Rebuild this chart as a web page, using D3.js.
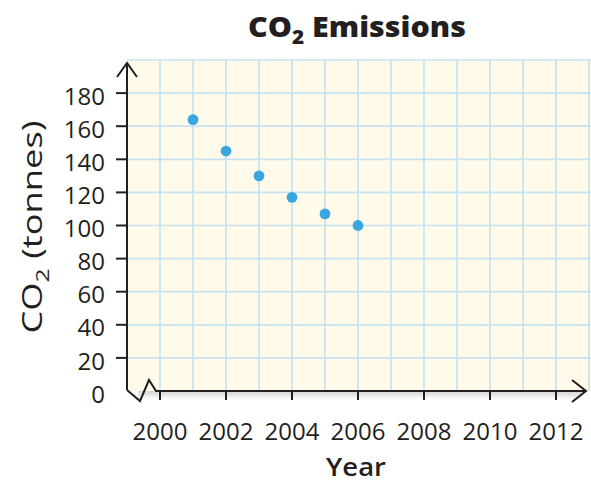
<!DOCTYPE html>
<html>
<head>
<meta charset="utf-8">
<script src="https://cdn.jsdelivr.net/npm/d3@7/dist/d3.min.js"></script>
<style>
  html, body { margin: 0; padding: 0; background: #ffffff; }
  svg { display: block; }
  text { font-family: "Open Sans", "Lato", sans-serif; fill: #231f20; }
</style>
</head>
<body>
<svg id="chart" width="591" height="483"></svg>
<script>
// ---- data ----
const years = [2001, 2002, 2003, 2004, 2005, 2006];
const emissions = [164, 145, 130, 117, 107, 100];
const xTickLabels = [2000, 2002, 2004, 2006, 2008, 2010, 2012];
const yTickLabels = [0, 20, 40, 60, 80, 100, 120, 140, 160, 180];
const xGridYears = [2000, 2001, 2002, 2003, 2004, 2005, 2006, 2007, 2008, 2009, 2010, 2011, 2012, 2013];
const yGridValues = [20, 40, 60, 80, 100, 120, 140, 160, 180, 200];

const svg = d3.select("#chart");
const x = d3.scaleLinear().domain([1999, 2013]).range([127, 589]);
const y = d3.scaleLinear().domain([0, 200]).range([391, 60]);

const gridLeft = x(1999), gridRight = 591, gridTop = y(200), gridBottom = y(0);

// background
svg.append("rect")
  .attr("x", gridLeft).attr("y", gridTop)
  .attr("width", gridRight - gridLeft).attr("height", gridBottom - gridTop)
  .attr("fill", "#fffaea");

// shadow under x axis
const defs = svg.append("defs");
const grad = defs.append("linearGradient").attr("id", "shadow").attr("x1", 0).attr("y1", 0).attr("x2", 0).attr("y2", 1);
grad.append("stop").attr("offset", "0%").attr("stop-color", "#d4d4d4");
grad.append("stop").attr("offset", "100%").attr("stop-color", "#ffffff");
svg.append("rect")
  .attr("x", 138).attr("y", gridBottom)
  .attr("width", 583 - 138).attr("height", 9)
  .attr("fill", "url(#shadow)");

// grid
const grid = svg.append("g").attr("stroke", "#c6e3ef").attr("stroke-width", 1.7);
grid.selectAll("line.v").data(xGridYears).join("line")
  .attr("x1", d => x(d)).attr("x2", d => x(d))
  .attr("y1", gridTop).attr("y2", gridBottom);
grid.selectAll("line.h").data(yGridValues).join("line")
  .attr("x1", gridLeft).attr("x2", gridRight)
  .attr("y1", d => y(d)).attr("y2", d => y(d));

// axes
const axisColor = "#231f20";
const ax = svg.append("g").attr("stroke", axisColor).attr("stroke-width", 2).attr("fill", "none")
  .attr("stroke-linejoin", "miter");
ax.append("line").attr("x1", gridLeft).attr("x2", gridLeft).attr("y1", gridBottom - 1).attr("y2", 63);
ax.append("path").attr("d", `M${gridLeft - 10},77 L${gridLeft},63 L${gridLeft + 10},77`);
ax.append("path").attr("d",
  `M${gridLeft},${gridBottom - 1} L${gridLeft + 13},${gridBottom + 10} L${gridLeft + 22},${gridBottom - 11} L${gridLeft + 29},${gridBottom} L586,${gridBottom}`);
ax.append("path").attr("d", `M572,${gridBottom - 11} L586,${gridBottom} L572,${gridBottom + 11}`);

// x ticks
ax.selectAll("line.xt").data(xTickLabels).join("line")
  .attr("x1", d => x(d)).attr("x2", d => x(d))
  .attr("y1", gridBottom).attr("y2", gridBottom + 9);
// y ticks (not at 0)
ax.selectAll("line.yt").data(yTickLabels.filter(d => d > 0)).join("line")
  .attr("x1", gridLeft - 11).attr("x2", gridLeft)
  .attr("y1", d => y(d)).attr("y2", d => y(d));

// tick labels
svg.append("g").selectAll("text").data(xTickLabels).join("text")
  .attr("x", d => x(d)).attr("y", 440)
  .attr("text-anchor", "middle").attr("font-size", 24).attr("font-weight", 500)
  .text(d => d);
svg.append("g").selectAll("text").data(yTickLabels).join("text")
  .attr("x", 105).attr("y", d => y(d) + 3)
  .attr("dy", "0.36em")
  .attr("text-anchor", "end").attr("font-size", 24).attr("font-weight", 500)
  .text(d => d);

// points
svg.append("g").selectAll("circle").data(years).join("circle")
  .attr("cx", d => x(d))
  .attr("cy", (d, i) => y(emissions[i]))
  .attr("r", 5.4)
  .attr("fill", "#3aa6e0");

// title
const title = svg.append("text")
  .attr("x", 357).attr("y", 37)
  .attr("text-anchor", "middle").attr("font-size", 28).attr("font-weight", 800)
  .attr("textLength", 218).attr("lengthAdjust", "spacingAndGlyphs");
title.append("tspan").text("CO");
title.append("tspan").attr("font-size", 19).attr("dy", 7).text("2");
title.append("tspan").attr("dy", -7).text(" Emissions");

// x axis title
svg.append("text")
  .attr("x", 356).attr("y", 476)
  .attr("text-anchor", "middle").attr("font-size", 25).attr("font-weight", 600)
  .attr("textLength", 60).attr("lengthAdjust", "spacingAndGlyphs")
  .text("Year");

// y axis title
const yt = svg.append("text")
  .attr("transform", "translate(42,227) rotate(-90)")
  .attr("text-anchor", "middle").attr("font-size", 28).attr("font-weight", 500)
  .attr("textLength", 213).attr("lengthAdjust", "spacingAndGlyphs");
yt.append("tspan").text("CO");
yt.append("tspan").attr("font-size", 19).attr("dy", 7).text("2");
yt.append("tspan").attr("dy", -7).text(" (tonnes)");
</script>
</body>
</html>
